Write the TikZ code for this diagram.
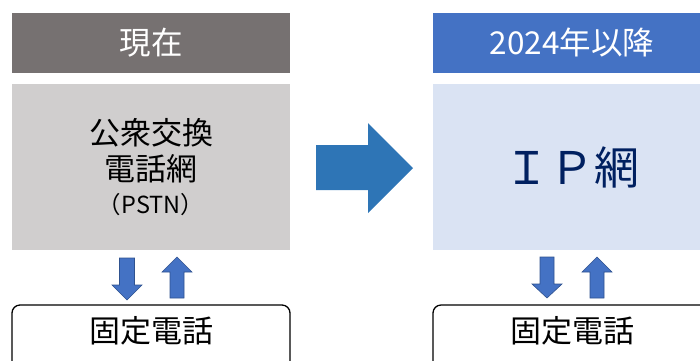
\documentclass[tikz,border=0pt]{standalone}
\usepackage{fontspec}
\setmainfont{Noto Sans CJK JP}
\usepackage{xcolor}
\usetikzlibrary{calc}
\definecolor{headgray}{HTML}{767171}
\definecolor{bodygray}{HTML}{D0CECE}
\definecolor{headblue}{HTML}{4472C4}
\definecolor{bodyblue}{HTML}{DAE3F3}
\definecolor{bigarrow}{HTML}{2E75B6}
\definecolor{arrowline}{HTML}{2F528F}
\definecolor{navy}{HTML}{002060}
\tikzset{
  headbox/.style={minimum width=278pt,minimum height=60pt,inner sep=0pt,outer sep=0pt,text=white,font=\fontsize{31.5}{36}\selectfont},
  bodybox/.style={minimum width=278pt,minimum height=166pt,inner sep=0pt,outer sep=0pt,align=center},
  phonebox/.style={draw=black,line width=1.3pt,rounded corners=8pt,minimum width=278pt,minimum height=72pt,inner sep=0pt,outer sep=0pt},
  updown/.style={fill=headblue,draw=arrowline,line width=0.6pt}
}
\begin{document}
\begin{tikzpicture}[x=1pt,y=-1pt]
\useasboundingbox(0,0)rectangle(700,360);
\clip(0,0)rectangle(700,360);
% left side: now
\node[headbox,fill=headgray](now)at(151,43){現在};
\node[bodybox,fill=bodygray,font=\fontsize{31}{36}\selectfont](pstn)at(151,167){公衆交換\\電話網\\[-3pt]{\fontsize{23.5}{30}\selectfont（PSTN）}};
\node[phonebox,anchor=north](phoneL)at(151,305){};
\node at(151,331){\fontsize{31}{36}\selectfont 固定電話};
\filldraw[updown](119.5,258)--(134.5,258)--(134.5,285)--(142,285)--(127,300)--(112,285)--(119.5,285)--cycle;
\filldraw[updown](170,298)--(184,298)--(184,272)--(192,272)--(177,257)--(162,272)--(170,272)--cycle;
% big arrow
\fill[bigarrow](316,145)--(368,145)--(368,123)--(413,168)--(368,213)--(368,190)--(316,190)--cycle;
% right side: after 2024
\node[headbox,fill=headblue](after)at(572,43){2024年以降};
\node[bodybox,fill=bodyblue,text=navy,font=\fontsize{45}{50}\selectfont](ipnet)at(572,167){ＩＰ網};
\node[phonebox,anchor=north](phoneR)at(572,305){};
\node at(572,331){\fontsize{31}{36}\selectfont 固定電話};
\filldraw[updown](540,257)--(554,257)--(554,284)--(562,284)--(547,298)--(532,284)--(540,284)--cycle;
\filldraw[updown](590,298)--(604,298)--(604,272)--(612,272)--(597,257)--(582,272)--(590,272)--cycle;
\end{tikzpicture}
\end{document}
